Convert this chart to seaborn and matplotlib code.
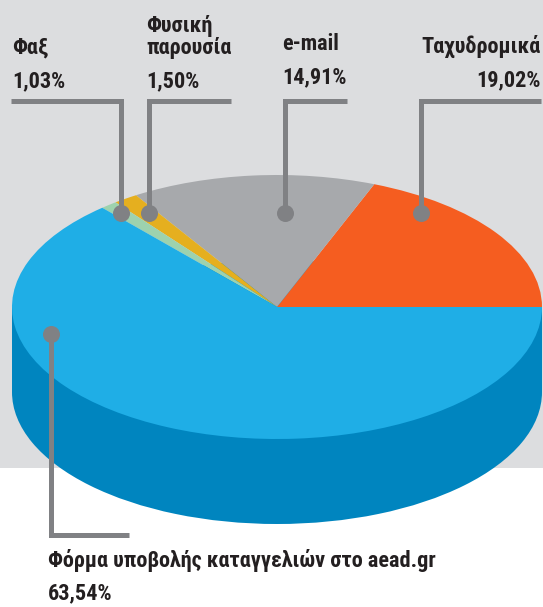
import matplotlib
matplotlib.use('Agg')
import matplotlib.pyplot as plt
import seaborn as sns

# pie data, in the order they go round from 3 o'clock
channels = ['Ταχυδρομικά', 'e-mail', 'Φυσική\nπαρουσία', 'Φαξ', 'Φόρμα υποβολής καταγγελιών στο aead.gr']
shares = [19.02, 14.91, 1.50, 1.03, 63.54]
share_labels = ['19,02%', '14,91%', '1,50%', '1,03%', '63,54%']
colors = ['#F55D20', '#A7A9AC', '#E5AF1F', '#9DD2AE', '#1FAEE6']
side_color = '#0085BF'
band_color = '#DCDDDF'
line_color = '#808184'
text_color = '#231F20'

W, H = 543, 607

sns.set_theme(style='white')
plt.rcParams['font.family'] = ['Roboto Condensed', 'Roboto', 'DejaVu Sans']
plt.rcParams['font.weight'] = 'bold'

fig = plt.figure(figsize=(W / 100, H / 100), dpi=100, facecolor='white')

# pie axes, squashed so the circle comes out as an ellipse
cx, cy, rx, ry, depth = 277, 307, 265, 132, 85 / 132
ax = fig.add_axes([0, 0, 1, 1])
ax.pie([1], colors=[side_color], radius=1, center=(0, -depth), wedgeprops={'linewidth': 0})
ax.fill_between([-1, 1], -depth, 0, color=side_color, linewidth=0)
ax.pie(shares, colors=colors, radius=1, startangle=0, wedgeprops={'linewidth': 0})
ax.set_aspect('auto')
ax.set_xlim(-cx / rx, (W - cx) / rx)
ax.set_ylim((cy - H) / ry, cy / ry)
ax.axhspan((cy - 468) / ry, cy / ry, color=band_color, linewidth=0, zorder=0)
ax.axis('on')
sns.despine(ax=ax, left=True, bottom=True)
ax.set_xticks([])
ax.set_yticks([])
ax.set_facecolor('none')

# overlay in pixel coordinates for the labels and leader lines
ov = fig.add_axes([0, 0, 1, 1], facecolor='none')
ov.set_xlim(0, W)
ov.set_ylim(H, 0)
ov.axis('off')

leaders = [
    ([541, 421, 421], [101, 101, 213]),
    ([347, 285, 285], [101, 101, 213]),
    ([231, 149, 149], [101, 101, 213]),
    ([11, 121, 121], [101, 101, 213]),
    ([129, 51, 51], [535, 535, 334]),
]
for xs, ys in leaders:
    ov.plot(xs, ys, color=line_color, lw=3.6, solid_joinstyle='miter', solid_capstyle='butt')
    ov.scatter(xs[-1], ys[-1], s=150, color=line_color, linewidth=0, zorder=5)

fs = 16
ov.text(541, 46, channels[0], ha='right', va='center', fontsize=fs, color=text_color)
ov.text(541, 80, share_labels[0], ha='right', va='center', fontsize=fs, color=text_color)
ov.text(282, 44, channels[1], ha='left', va='center', fontsize=fs, color=text_color)
ov.text(282, 77, share_labels[1], ha='left', va='center', fontsize=fs, color=text_color)
ov.text(146, 37, channels[2], ha='left', va='center', fontsize=fs, color=text_color, linespacing=1.05)
ov.text(146, 81, share_labels[2], ha='left', va='center', fontsize=fs, color=text_color)
ov.text(12, 47, channels[3], ha='left', va='center', fontsize=fs, color=text_color)
ov.text(12, 81, share_labels[3], ha='left', va='center', fontsize=fs, color=text_color)
ov.text(48, 560, channels[4], ha='left', va='center', fontsize=fs, color=text_color)
ov.text(48, 593, share_labels[4], ha='left', va='center', fontsize=fs, color=text_color)

fig.savefig('out.png', dpi=100)
